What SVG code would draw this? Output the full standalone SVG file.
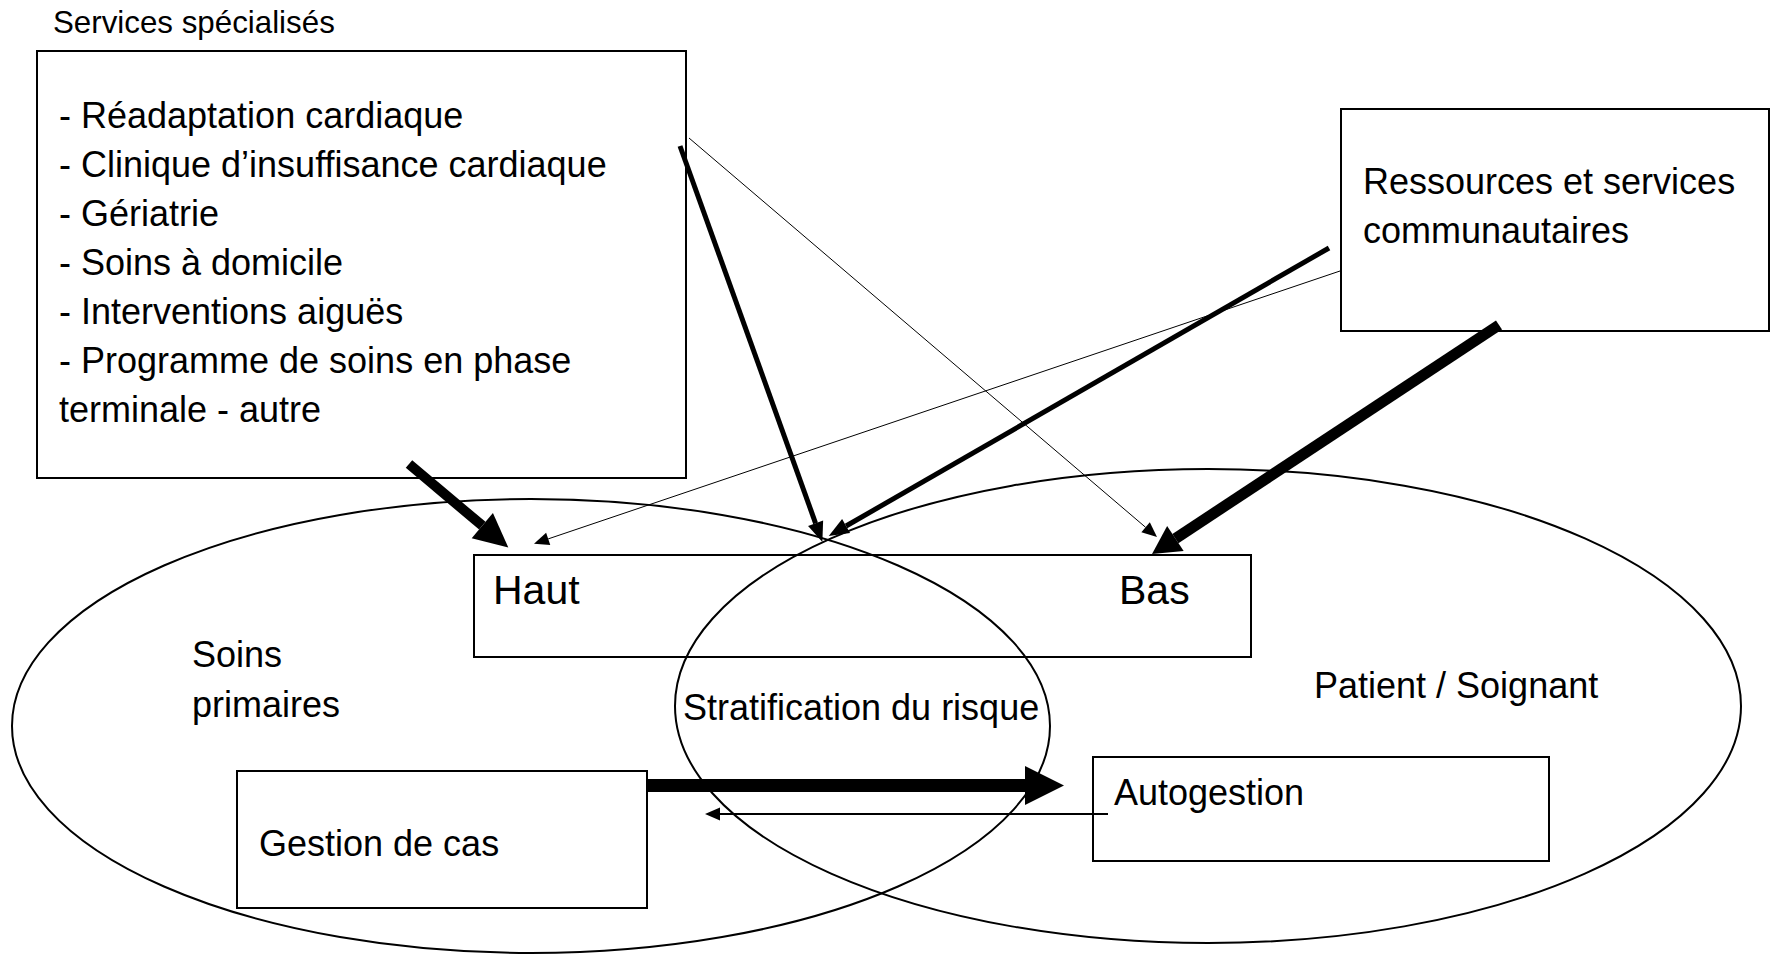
<svg xmlns="http://www.w3.org/2000/svg" width="1771" height="956" viewBox="0 0 1771 956">
  <style>
    .box { fill: none; stroke: #000; stroke-width: 2; }
    .zone { fill: none; stroke: #000; stroke-width: 2; }
    .t { font-family: "Liberation Sans", Arial, sans-serif; font-size: 36px; fill: #000; }
    .big { font-size: 41px; }
    .small { font-size: 31.3px; }
    .link { stroke: #000; fill: none; stroke-linecap: butt; }
  </style>
  <defs>
    <!-- arrowheads: the path starts at the shaft end and points forward -->
    <marker id="headXL" markerUnits="userSpaceOnUse" markerWidth="40" markerHeight="40" refX="0" refY="19.5" orient="auto" overflow="visible">
      <path d="M0,0 L39,19.5 L0,39 Z" fill="#000"/>
    </marker>
    <marker id="headL" markerUnits="userSpaceOnUse" markerWidth="36" markerHeight="34" refX="0" refY="16.5" orient="auto" overflow="visible">
      <path d="M0,0 L34,16.5 L0,33 Z" fill="#000"/>
    </marker>
    <marker id="headF" markerUnits="userSpaceOnUse" markerWidth="30" markerHeight="30" refX="0" refY="15" orient="auto" overflow="visible">
      <path d="M0,0 L28,15 L0,30 Z" fill="#000"/>
    </marker>
    <marker id="headM" markerUnits="userSpaceOnUse" markerWidth="22" markerHeight="16" refX="0" refY="8" orient="auto" overflow="visible">
      <path d="M0,0 L20,8 L0,16 Z" fill="#000"/>
    </marker>
    <marker id="headS" markerUnits="userSpaceOnUse" markerWidth="16" markerHeight="14" refX="0" refY="6.5" orient="auto" overflow="visible">
      <path d="M0,0 L15,6.5 L0,13 Z" fill="#000"/>
    </marker>
  </defs>

  <rect x="0" y="0" width="1771" height="956" fill="#fff"/>

  <!-- overlapping care zones -->
  <g id="soins-primaires">
    <ellipse class="zone" cx="531" cy="726" rx="519" ry="227"/>
    <text class="t" x="192" y="667">Soins</text>
    <text class="t" x="192" y="717">primaires</text>
  </g>

  <g id="patient-soignant">
    <ellipse class="zone" cx="1208" cy="706" rx="533" ry="237"/>
    <text class="t" x="1314" y="698">Patient / Soignant</text>
  </g>

  <g id="stratification">
    <text class="t" x="683" y="720">Stratification du risque</text>
  </g>

  <g id="services-specialises">
    <text class="t small" x="53" y="33">Services spécialisés</text>
    <rect class="box" x="37" y="51" width="649" height="427"/>
    <text class="t" x="59" y="128.3">- Réadaptation cardiaque</text>
    <text class="t" x="59" y="177.2">- Clinique d’insuffisance cardiaque</text>
    <text class="t" x="59" y="226.1">- Gériatrie</text>
    <text class="t" x="59" y="275">- Soins à domicile</text>
    <text class="t" x="59" y="323.9">- Interventions aiguës</text>
    <text class="t" x="59" y="372.8">- Programme de soins en phase</text>
    <text class="t" x="59" y="421.7">terminale - autre</text>
  </g>

  <g id="ressources-communautaires">
    <rect class="box" x="1341" y="109" width="428" height="222"/>
    <text class="t" x="1363" y="194">Ressources et services</text>
    <text class="t" x="1363" y="243">communautaires</text>
  </g>

  <g id="niveau-risque">
    <rect class="box" x="474" y="555" width="777" height="102"/>
    <text class="t big" x="493" y="604">Haut</text>
    <text class="t big" x="1119" y="604">Bas</text>
  </g>

  <g id="gestion-de-cas">
    <rect class="box" x="237" y="771" width="410" height="137"/>
    <text class="t" x="259" y="856">Gestion de cas</text>
  </g>

  <g id="autogestion">
    <rect class="box" x="1093" y="757" width="456" height="104"/>
    <text class="t" x="1114" y="805">Autogestion</text>
  </g>

  <g id="connectors">
    <!-- specialised services to high risk -->
    <line class="link" x1="409" y1="464" x2="482.3" y2="525.7" stroke-width="10" marker-end="url(#headL)"/>
    <!-- specialised services to risk stratification -->
    <line class="link" x1="680" y1="146" x2="815.6" y2="523.3" stroke-width="5" marker-end="url(#headM)"/>
    <!-- specialised services to low risk (thin) -->
    <line class="link" x1="689" y1="138" x2="1145.6" y2="527.3" stroke-width="1" marker-end="url(#headS)"/>
    <!-- community resources to risk stratification -->
    <line class="link" x1="1329" y1="248" x2="846.1" y2="526" stroke-width="5" marker-end="url(#headM)"/>
    <!-- community resources to high risk (thin) -->
    <line class="link" x1="1340" y1="271" x2="548.2" y2="538.9" stroke-width="1" marker-end="url(#headS)"/>
    <!-- community resources to low risk -->
    <line class="link" x1="1499" y1="325" x2="1175.4" y2="538.6" stroke-width="11" marker-end="url(#headF)"/>
    <!-- case management to self-management -->
    <line class="link" x1="646" y1="785.5" x2="1025" y2="785.5" stroke-width="13" marker-end="url(#headXL)"/>
    <!-- self-management back to case management -->
    <line class="link" x1="1108" y1="814" x2="720" y2="814" stroke-width="2" marker-end="url(#headS)"/>
  </g>
</svg>
